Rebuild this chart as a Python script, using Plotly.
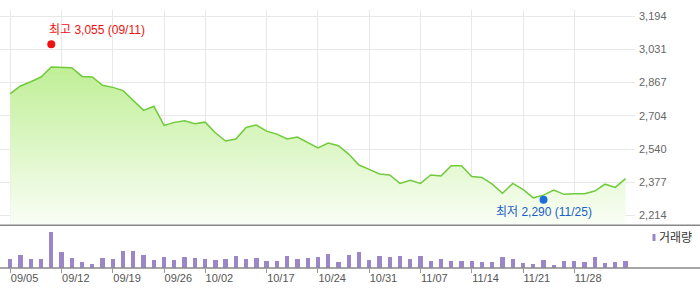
import plotly.graph_objects as go

# ---- data ----
close = [2812, 2850, 2871, 2894, 2943, 2940, 2940, 2897, 2894, 2853,
         2843, 2827, 2777, 2730, 2750, 2656, 2671, 2679, 2664, 2672,
         2620, 2579, 2589, 2646, 2658, 2628, 2613, 2589, 2599, 2571,
         2545, 2569, 2556, 2515, 2461, 2440, 2417, 2412, 2371, 2386,
         2371, 2412, 2407, 2458, 2458, 2405, 2400, 2367, 2322, 2371,
         2341, 2300, 2313, 2338, 2317, 2320, 2320, 2333, 2367, 2351, 2394]
volume = [93, 133, 93, 93, 363, 163, 103, 63, 43, 103,
          93, 173, 173, 133, 83, 113, 83, 113, 103, 93,
          83, 93, 123, 93, 103, 73, 73, 123, 93, 103,
          113, 143, 63, 133, 163, 83, 123, 113, 123, 93,
          123, 73, 93, 73, 73, 73, 63, 63, 113, 93,
          53, 43, 83, 33, 73, 73, 63, 113, 53, 63, 73]
tick_idx = [0, 5, 10, 15, 19, 25, 30, 35, 40, 45, 50, 55]
tick_labels = ["09/05", "09/12", "09/19", "09/26", "10/02", "10/17",
               "10/24", "10/31", "11/07", "11/14", "11/21", "11/28"]
price_tickvals = [2214, 2377, 2540, 2704, 2867, 3031, 3194]
price_ticktext = ["2,214", "2,377", "2,540", "2,704", "2,867", "3,031", "3,194"]
high_idx, high_val, high_label = 4, 3055, "최고 3,055 (09/11)"
low_idx, low_val, low_label = 52, 2290, "최저 2,290 (11/25)"
volume_name = "거래량"

x = list(range(len(close)))
FONT = "Liberation Sans, Noto Sans CJK KR, sans-serif"
GRID = "#e8e8e8"

fig = go.Figure()
fig.add_trace(go.Scatter(
    x=x, y=close, mode="lines",
    line=dict(color="#6fcb3a", width=1.5),
    fill="tozeroy",
    fillgradient=dict(type="vertical", start=2165, stop=2950,
                      colorscale=[[0, "#fafef6"], [1, "#bfef95"]]),
    xaxis="x", yaxis="y", showlegend=False, hoverinfo="skip"))
fig.add_trace(go.Scatter(
    x=[high_idx], y=[high_val], mode="markers",
    marker=dict(color="#ee1111", size=8),
    xaxis="x", yaxis="y", showlegend=False))
fig.add_trace(go.Scatter(
    x=[low_idx], y=[low_val], mode="markers",
    marker=dict(color="#1a6fd8", size=8),
    xaxis="x", yaxis="y", showlegend=False))
fig.add_trace(go.Bar(
    x=x, y=volume, marker=dict(color="#9a86c8", line=dict(width=0)),
    width=0.42, xaxis="x2", yaxis="y2", showlegend=False))

fig.add_annotation(x=high_idx, y=high_val, xref="x", yref="y",
                   text=high_label, showarrow=False, xanchor="left",
                   yanchor="middle", xshift=-4, yshift=14,
                   font=dict(family=FONT, size=12, color="#ee1111"))
fig.add_annotation(x=low_idx, y=low_val, xref="x", yref="y",
                   text=low_label, showarrow=False, xanchor="center",
                   yanchor="middle", yshift=-12,
                   font=dict(family=FONT, size=12, color="#1a5fc8"))

plot_w = 635.0
fig.add_shape(type="line", xref="paper", yref="y domain",
              x0=0, x1=700 / plot_w, y0=0, y1=0,
              line=dict(color="#888888", width=1.5))
fig.add_shape(type="line", xref="paper", yref="y2 domain",
              x0=0, x1=700 / plot_w, y0=0, y1=0,
              line=dict(color="#888888", width=1.5))
# legend for volume
fig.add_shape(type="rect", xref="paper", yref="paper",
              x0=652.5 / plot_w, x1=655.5 / plot_w,
              y0=(268 - 241) / 258, y1=(268 - 234) / 258,
              fillcolor="#9a86c8", line=dict(width=0))
fig.add_annotation(x=657 / plot_w, y=(268 - 238) / 258, xref="paper", yref="paper",
                   text=volume_name, showarrow=False, xanchor="left", yanchor="middle",
                   font=dict(family=FONT, size=12, color="#333333"))

fig.update_layout(
    width=700, height=289,
    margin=dict(l=0, r=65, t=10, b=21),
    paper_bgcolor="white", plot_bgcolor="white",
    font=dict(family=FONT, size=11, color="#666666"),
    bargap=0,
    xaxis=dict(domain=[0, 1], anchor="y", range=[-1.0, 60.92],
               tickvals=tick_idx, showticklabels=False, showgrid=True,
               gridcolor=GRID, gridwidth=1, zeroline=False, showline=False),
    xaxis2=dict(domain=[0, 1], anchor="y2", matches="x", range=[-1.0, 60.92],
                tickvals=tick_idx, ticktext=tick_labels, showgrid=False,
                ticks="outside", ticklen=4, tickcolor="#999999",
                ticklabelposition="outside right",
                tickfont=dict(family=FONT, size=11, color="#555555"),
                zeroline=False, showline=False),
    yaxis=dict(domain=[0.1655, 1], anchor="x", side="right",
               range=[2164.8, 3223.5], tickvals=price_tickvals,
               ticktext=price_ticktext, showgrid=True, gridcolor=GRID,
               gridwidth=1, zeroline=False, ticks="", ticklabelstandoff=3,
               tickfont=dict(family=FONT, size=11, color="#666666")),
    yaxis2=dict(domain=[0, 0.155], anchor="x2", range=[0, 400],
                showticklabels=False, showgrid=False, zeroline=False),
)

fig.write_html("out.html")
